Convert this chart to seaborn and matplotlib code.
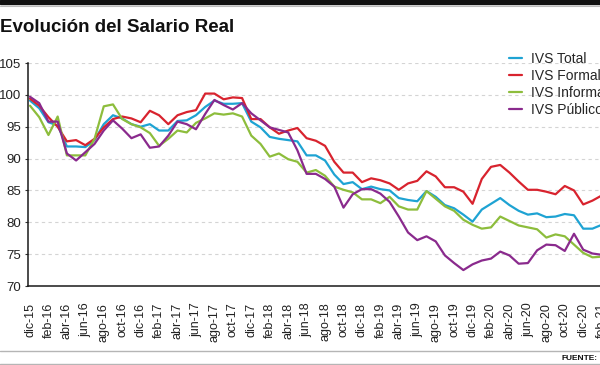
import numpy as np
import pandas as pd
import matplotlib
matplotlib.use("Agg")
import matplotlib.pyplot as plt
import seaborn as sns
from matplotlib import font_manager as fm
from matplotlib.lines import Line2D
from matplotlib.patches import Rectangle

# ---------------- data ----------------
tick_labels = ["dic-15", "feb-16", "abr-16", "jun-16", "ago-16", "oct-16", "dic-16",
               "feb-17", "abr-17", "jun-17", "ago-17", "oct-17", "dic-17",
               "feb-18", "abr-18", "jun-18", "ago-18", "oct-18", "dic-18",
               "feb-19", "abr-19", "jun-19", "ago-19", "oct-19", "dic-19",
               "feb-20", "abr-20", "jun-20", "ago-20", "oct-20", "dic-20", "feb-21"]

series_names = ["IVS Total", "IVS Formal", "IVS Informal", "IVS Público"]

ivs_total = [99.1, 97.9, 95.7, 95.2, 91.9, 91.9, 91.8, 92.9, 95.4, 96.8,
             96.3, 95.4, 95.0, 95.4, 94.4, 94.4, 95.9, 96.0, 96.8, 98.1,
             99.1, 98.6, 98.6, 98.7, 95.8, 94.9, 93.4, 93.1, 92.9, 92.7,
             90.5, 90.5, 89.7, 87.5, 86.0, 86.3, 85.2, 85.6, 85.2, 85.0,
             83.8, 83.5, 83.3, 84.9, 84.0, 82.7, 82.2, 81.2, 80.1, 82.0,
             82.9, 83.8, 82.7, 81.8, 81.2, 81.4, 80.8, 80.9, 81.3, 81.1,
             79.0, 79.0, 79.6]

ivs_formal = [99.4, 98.3, 96.5, 95.0, 92.7, 92.9, 92.1, 93.1, 94.9, 96.2,
              96.6, 96.3, 95.7, 97.5, 96.8, 95.4, 96.8, 97.3, 97.6, 100.2,
              100.2, 99.3, 99.6, 99.5, 96.2, 96.2, 94.9, 93.9, 94.4, 94.8,
              93.2, 92.8, 92.0, 89.5, 87.8, 87.8, 86.3, 86.9, 86.6, 86.1,
              85.1, 86.1, 86.5, 88.0, 87.2, 85.5, 85.5, 84.8, 82.9, 86.8,
              88.7, 89.0, 87.8, 86.4, 85.1, 85.1, 84.8, 84.4, 85.7, 85.0,
              82.8, 83.4, 84.2]

ivs_informal = [98.3, 96.5, 93.7, 96.6, 90.5, 90.5, 90.5, 93.1, 98.2, 98.5,
                96.2, 95.4, 94.9, 94.0, 92.0, 93.1, 94.4, 94.1, 95.6, 96.3,
                97.1, 96.9, 97.1, 96.6, 93.6, 92.3, 90.3, 90.8, 89.9, 89.5,
                87.8, 88.2, 87.3, 85.6, 85.1, 84.7, 83.6, 83.6, 83.0, 84.0,
                82.5, 82.0, 82.0, 84.9, 83.7, 82.5, 81.8, 80.4, 79.6, 79.0,
                79.2, 80.9, 80.2, 79.5, 79.2, 78.9, 77.6, 78.1, 77.8, 76.5,
                75.2, 74.5, 74.6]

ivs_publico = [99.7, 98.7, 95.8, 95.8, 90.8, 89.7, 91.0, 92.3, 94.4, 96.0,
               94.7, 93.2, 93.8, 91.7, 91.9, 93.6, 95.8, 95.4, 94.6, 97.0,
               99.2, 98.4, 97.7, 98.7, 97.1, 96.0, 94.9, 94.5, 94.1, 91.3,
               87.6, 87.6, 86.8, 85.6, 82.3, 84.4, 85.2, 85.2, 84.5, 83.2,
               80.9, 78.4, 77.2, 77.8, 77.0, 74.8, 73.6, 72.5, 73.4, 74.0,
               74.3, 75.4, 74.8, 73.5, 73.6, 75.6, 76.5, 76.4, 75.5, 78.2,
               75.7, 75.1, 74.9]

colors = ["#1ea3d3", "#d8232e", "#8dbd3c", "#8a2a8d"]

# ---------------- build frame ----------------
all_vals = [ivs_total, ivs_formal, ivs_informal, ivs_publico]
frames = []
for name, vals in zip(series_names, all_vals):
    frames.append(pd.DataFrame({"mes": np.arange(len(vals)), "valor": vals, "serie": name}))
df = pd.concat(frames, ignore_index=True)

# ---------------- style ----------------
sns.set_style("white")
avail = {f.name for f in fm.fontManager.ttflist}
narrow = "Liberation Sans Narrow" if "Liberation Sans Narrow" in avail else "Liberation Sans"
plt.rcParams["font.family"] = [narrow, "DejaVu Sans"]

W, H = 600, 365
fig = plt.figure(figsize=(6, 3.65), dpi=100)
ax = fig.add_axes([27.7 / W, 79 / H, (620.1 - 27.7) / W, 223 / H])

sns.lineplot(data=df, x="mes", y="valor", hue="serie", palette=colors,
             hue_order=series_names, linewidth=1.6, ax=ax, legend=True)

ax.set_xlim(-0.25, 64)
ax.set_ylim(70, 105)
ax.set_yticks(np.arange(70, 106, 5))
ax.set_xticks(np.arange(0, 2 * len(tick_labels), 2))
ax.set_xticklabels(tick_labels, rotation=90, fontsize=9, color="#222222")
ax.tick_params(axis="x", length=0, pad=12)
ax.tick_params(axis="y", length=2.5, width=0.8, color="#333333", pad=2.2,
               labelsize=9.5, labelcolor="#222222", left=True)
ax.set_xlabel("")
ax.set_ylabel("")

for y in range(75, 106, 5):
    ax.axhline(y, color="#d4d4d4", lw=0.8, ls=(0, (3, 3)), zorder=0)

for s in ["top", "right"]:
    ax.spines[s].set_visible(False)
for s in ["left", "bottom"]:
    ax.spines[s].set_color("#1a1a1a")
    ax.spines[s].set_linewidth(1.1)

handles, labs = ax.get_legend_handles_labels()
ax.legend_.remove()
fig.legend(handles, labs, loc="upper left", bbox_to_anchor=(509 / W, 1 - 52 / H),
           frameon=False, fontsize=10, handlelength=0.95, handletextpad=0.65,
           labelspacing=0.22, borderpad=0, borderaxespad=0)

# ---------------- header / footer ----------------
fig.patches.append(Rectangle((0, 1 - 4 / H), 1, 4 / H, transform=fig.transFigure,
                             color="#111111", zorder=5))
fig.add_artist(Line2D([0, 1], [1 - 5.5 / H] * 2, color="#bbbbbb", lw=0.8))
fig.text(0.0, 1 - 32.5 / H, "Evolución del Salario Real", fontsize=13.5,
         fontweight="bold", color="#111111", va="baseline", ha="left")

fig.add_artist(Line2D([0, 1], [1 - 351 / H] * 2, color="#b5b5b5", lw=1.0))
fig.add_artist(Line2D([0, 1], [1 - 364 / H] * 2, color="#b5b5b5", lw=1.0))
fig.text(598 / W, 1 - 358 / H, "FUENTE:", fontsize=6, fontweight="bold",
         color="#111111", va="center", ha="right")

fig.savefig("out.png", dpi=100)
